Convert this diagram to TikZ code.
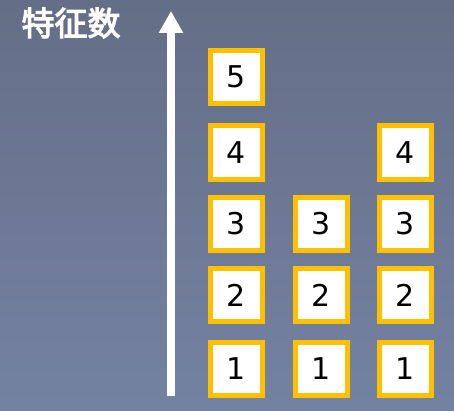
\documentclass[tikz,border=0pt]{standalone}
\usepackage{fontspec}
\newfontfamily\cjk{Noto Sans CJK SC}[AutoFakeBold=3.5]
\newfontfamily\dig{DejaVu Sans}
\usetikzlibrary{arrows.meta}
\definecolor{bgtop}{HTML}{656E87}
\definecolor{bgbot}{HTML}{7482A2}
\definecolor{gold}{HTML}{FFC000}
\tikzset{
  numbox/.style={draw=gold, line width=5pt, fill=white, minimum width=52pt, minimum height=53pt, inner sep=0pt, font=\dig\fontsize{30}{30}\selectfont, text=black},
  axis/.style={white, line width=7.5pt, -{Triangle[width=23pt,length=22pt]}}
}
\begin{document}
\begin{tikzpicture}[x=1pt,y=1pt]
\shade[top color=bgtop, bottom color=bgbot] (0,0) rectangle (454,410);
\useasboundingbox (0,0) rectangle (454,410);
\node[text=white, font=\cjk\bfseries\fontsize{33}{33}\selectfont] (title) at (71,387) {特征数};
\coordinate (abot) at (171,14);
\coordinate (atop) at (171,399);
\draw[axis] (abot) -- (atop);
% column 1
\node[numbox] (a1) at (236.5,41.5) {1};
\node[numbox] (a2) at (236.5,115) {2};
\node[numbox] (a3) at (236.5,186.5) {3};
\node[numbox] (a4) at (236.5,257.5) {4};
\node[numbox] (a5) at (236.5,333) {5};
% column 2
\node[numbox] (b1) at (321,41.5) {1};
\node[numbox] (b2) at (321,115) {2};
\node[numbox] (b3) at (321,186.5) {3};
% column 3
\node[numbox] (c1) at (405.5,41.5) {1};
\node[numbox] (c2) at (405.5,115) {2};
\node[numbox] (c3) at (405.5,186.5) {3};
\node[numbox] (c4) at (405.5,257.5) {4};
\end{tikzpicture}
\end{document}
